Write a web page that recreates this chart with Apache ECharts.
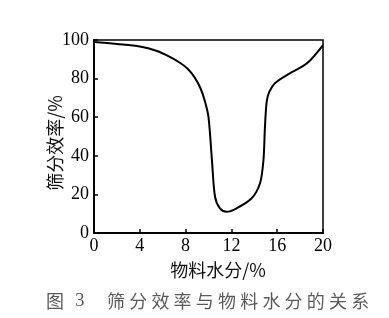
<!DOCTYPE html>
<html><head><meta charset="utf-8">
<script src="https://cdn.jsdelivr.net/npm/echarts@6/dist/echarts.min.js"></script>
<style>html,body{margin:0;padding:0;background:#fff;}#c{width:389px;height:318px;}</style>
</head><body><div id="c"></div>
<script>
const moisture = [0, 2, 4, 5.5, 6.5, 7.5, 8.2, 8.8, 9.3, 9.7, 10.0, 10.3, 10.57, 11.0, 11.6, 12.46, 13.77, 14.5, 14.8, 14.93, 15.08, 15.3, 15.8, 17.1, 18.6, 20];
const efficiency = [99, 97.9, 96.6, 94.3, 91.6, 88.2, 85, 80.5, 75, 68, 60, 37.8, 18.8, 12.8, 11, 12.8, 18, 25.8, 37.8, 55, 68, 73, 77.6, 82.7, 87.9, 97.4];
const xTicks = [0, 4, 8, 12, 16, 20];
const yTicks = [0, 20, 40, 60, 80, 100];
const xName = '物料水分/%';
const yName = '筛分效率/%';
const captionFig = '图';
const captionNum = '3';
const captionText = '筛分效率与物料水分的关系';

const chart = echarts.init(document.getElementById('c'), null, {renderer: 'canvas'});
const serif = '"Liberation Serif", "DejaVu Serif", serif';
const cjk = '"Noto Sans CJK SC", sans-serif';
const graphics = [];
graphics.push({type: 'text', left: 46, top: 292, style: {text: captionFig, font: '18px ' + cjk, fill: '#5a5a5a'}});
graphics.push({type: 'text', left: 75, top: 292, style: {text: captionNum, font: '19px ' + serif, fill: '#5a5a5a'}});
captionText.split('').forEach((ch, i) => {
  graphics.push({type: 'text', left: 107 + i * 22.2, top: 292, style: {text: ch, font: '18px ' + cjk, fill: '#5a5a5a'}});
});
graphics.push({type: 'text', x: 218, y: 270, style: {text: xName, font: '18px ' + cjk, fill: '#111', align: 'center', verticalAlign: 'middle'}});
graphics.push({type: 'text', x: 55, y: 143, rotation: Math.PI / 2, style: {text: yName, font: '18px ' + cjk, fill: '#111', align: 'center', verticalAlign: 'middle'}});
chart.setOption({
  animation: false,
  backgroundColor: '#fff',
  grid: {left: 94, right: 66, top: 40, bottom: 85, show: true, borderColor: '#000', borderWidth: 1.5, backgroundColor: 'transparent'},
  xAxis: {
    type: 'value', min: 0, max: 20, interval: 4,
    axisLine: {show: true, lineStyle: {color: '#000', width: 2}},
    axisTick: {show: true, inside: true, length: 4, lineStyle: {color: '#000', width: 1.5}},
    axisLabel: {fontFamily: serif, fontSize: 18, color: '#000', margin: 4, customValues: xTicks},
    splitLine: {show: false}
  },
  yAxis: {
    type: 'value', min: 0, max: 100, interval: 20,
    axisLine: {show: true, lineStyle: {color: '#000', width: 2}},
    axisTick: {show: true, inside: true, length: 4, lineStyle: {color: '#000', width: 1.5}},
    axisLabel: {fontFamily: serif, fontSize: 18, color: '#000', margin: 5, customValues: yTicks},
    splitLine: {show: false}
  },
  series: [{
    type: 'line',
    data: moisture.map((x, i) => [x, efficiency[i]]),
    smooth: 0.3,
    showSymbol: false,
    lineStyle: {color: '#000', width: 2}
  }],
  graphic: graphics
});
</script>
</body></html>
